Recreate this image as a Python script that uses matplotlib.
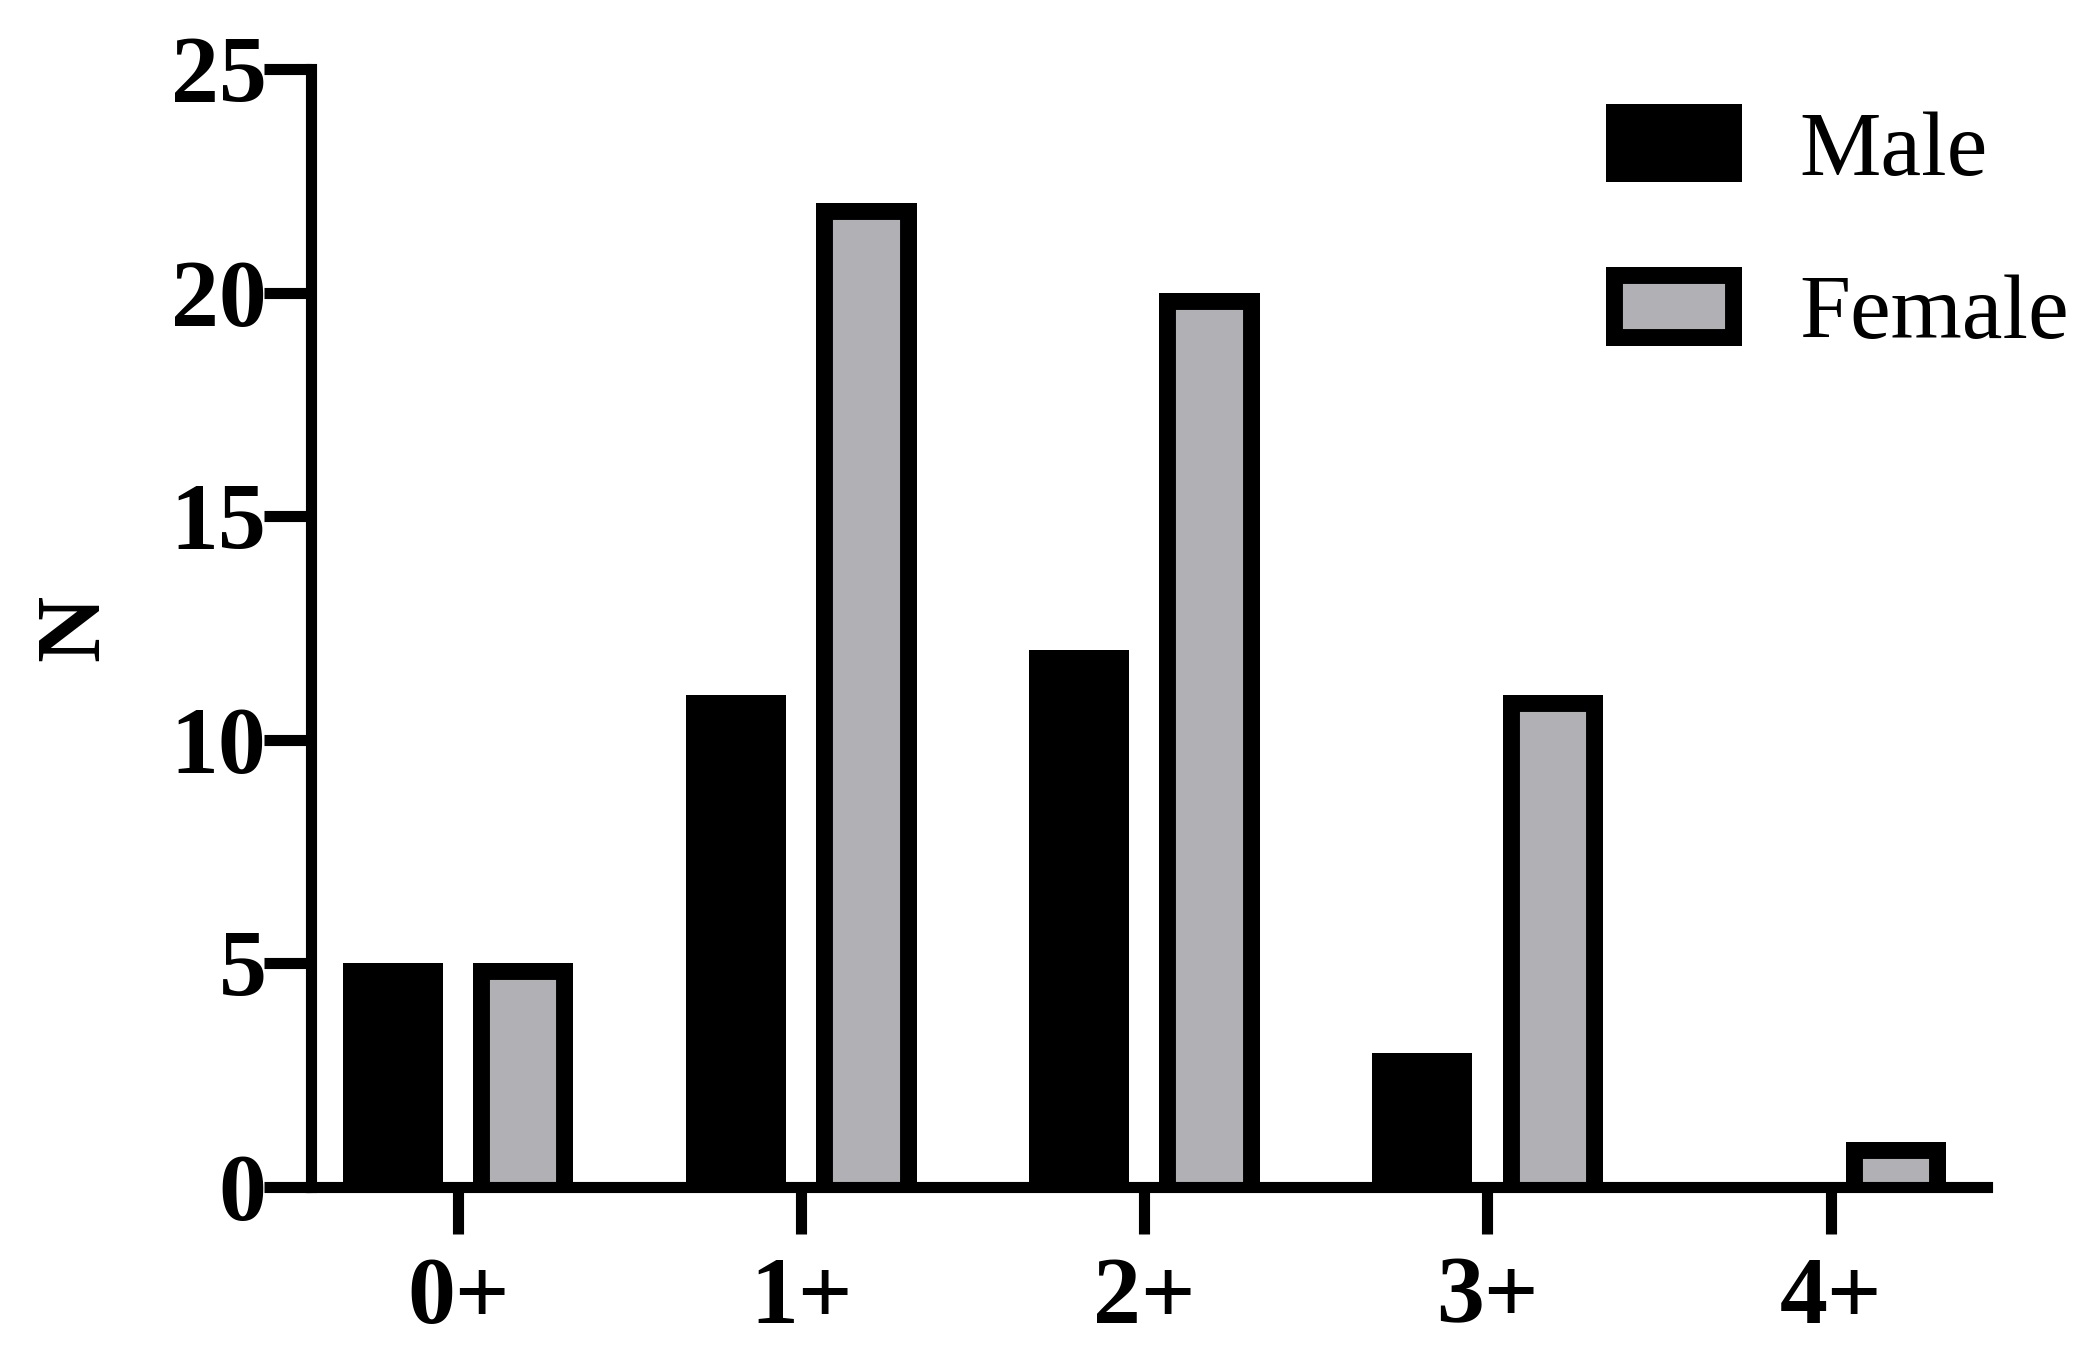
import matplotlib
matplotlib.use("Agg")
import matplotlib.pyplot as plt
from matplotlib.patches import Rectangle
import numpy as np

# age classes and counts per sex
age_classes = ["0+", "1+", "2+", "3+", "4+"]
male = [5, 11, 12, 3, 0]
female = [5, 22, 20, 11, 1]

plt.rcParams['font.family'] = ['Liberation Serif', 'DejaVu Serif']

fig = plt.figure(figsize=(20.9, 13.69), dpi=100)
ax = fig.add_axes([0.1488, 0.1329, 0.8019, 0.8167])

x = np.arange(len(age_classes))
w = 0.292
off = 0.19
lw = 24.4  # drawn inside the bar (clipped), so half of it shows

bm = ax.bar(x - off, male, width=w, color="black", edgecolor="black", linewidth=lw, label="Male")
bf = ax.bar(x + off, female, width=w, color="#b1b0b5", edgecolor="black", linewidth=lw, label="Female")

# keep the outline inside the bar (Prism style), and hide the bottom outline under the axis
for p in list(bm.patches) + list(bf.patches):
    clip = Rectangle((p.get_x(), 0), p.get_width(), p.get_height(), transform=ax.transData)
    p.set_y(p.get_y() - 1)
    p.set_height(p.get_height() + 1)
    p.set_clip_path(clip)

ax.set_xlim(-0.429, 4.456)
ax.set_ylim(0, 25)
ax.set_yticks([0, 5, 10, 15, 20, 25])
ax.set_xticks(x)
ax.set_xticklabels(age_classes)

for s in ["top", "right"]:
    ax.spines[s].set_visible(False)
for s in ["left", "bottom"]:
    ax.spines[s].set_linewidth(8)

ax.tick_params(axis="both", length=34, width=8, labelsize=69, color="black")
ax.tick_params(axis="y", pad=-2)
ax.tick_params(axis="x", pad=16)
for lab in ax.get_xticklabels() + ax.get_yticklabels():
    lab.set_fontweight("bold")

ax.set_ylabel("N", fontsize=66, fontweight="bold")
ax.yaxis.set_label_coords(-0.1155, 0.5)

leg = ax.legend(loc="upper left", bbox_to_anchor=(1606 / 2090, 1 - 104 / 1369),
                bbox_transform=fig.transFigure, frameon=False, fontsize=66,
                handlelength=1.48, handleheight=0.94, handletextpad=0.63,
                labelspacing=0.8, borderpad=0, borderaxespad=0)
for p in leg.get_patches():
    p.set_clip_path(p)

plt.savefig("out.png", dpi=100)
